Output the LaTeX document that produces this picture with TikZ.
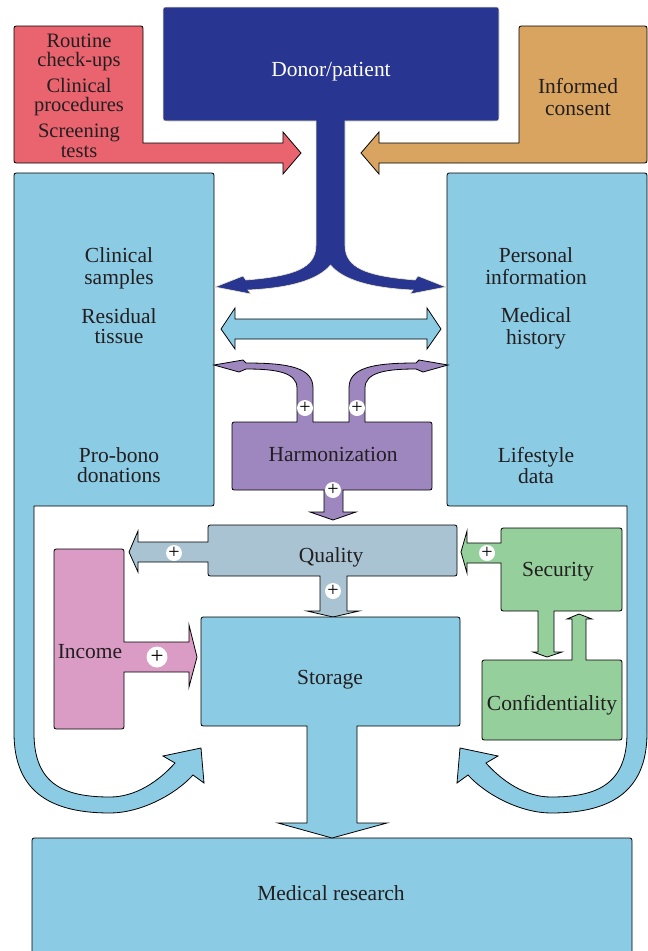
\documentclass[tikz,border=0pt]{standalone}
\usepackage{fontspec}
\setmainfont{Liberation Serif}
\definecolor{dblue}{HTML}{283691}
\definecolor{cream}{HTML}{EEE9C6}
\definecolor{redb}{HTML}{E9646F}
\definecolor{orangeb}{HTML}{D9A460}
\definecolor{lblue}{HTML}{8BCBE3}
\definecolor{purpleb}{HTML}{9E86BF}
\definecolor{qgrey}{HTML}{A9C3D3}
\definecolor{pinkb}{HTML}{DA9CC5}
\definecolor{greenb}{HTML}{95CF9B}
\definecolor{ink}{HTML}{231F20}
\begin{document}
\begin{tikzpicture}[x=1pt,y=-1pt,
  blk/.style={draw=black,line width=0.8pt,line join=miter},
  lbl/.style={anchor=base,inner sep=0pt,text=ink,font=\fontsize{21.5}{21.5}\selectfont},
  rlbl/.style={lbl,font=\fontsize{20.5}{20.5}\selectfont},
  pc/.style={circle,fill=white,inner sep=0pt,minimum size=16pt,font=\fontsize{20}{20}\selectfont}]
\useasboundingbox (0,0) rectangle (648,951);

% Medical research
\fill[lblue] (32,951) -- (32,843) .. controls (32,838) .. (37,838) -- (627,838) .. controls (632,838) .. (632,843) -- (632,951) -- cycle;
\draw[line width=0.8pt] (32,951) -- (32,843) .. controls (32,838) .. (37,838) -- (627,838) .. controls (632,838) .. (632,843) -- (632,951);

% left blue box with band
\path[blk,fill=lblue] (19,173) -- (209,173) .. controls (214,173) .. (214,178) -- (214,501) .. controls (214,506) .. (209,506) -- (34,506) -- (34,733)
  .. controls (34,785) and (65,797) .. (110,797) .. controls (135,797) and (158,782) .. (175,763) -- (163,756) -- (201,748) -- (204,783) -- (193,775)
  .. controls (175,795) and (140,813) .. (110,813) .. controls (55,813) and (14,795) .. (14,733) -- (14,178) .. controls (14,173) .. (19,173) -- cycle;

% right blue box with band
\path[blk,fill=lblue] (452,173) -- (642,173) .. controls (647,173) .. (647,178) -- (647,733)
  .. controls (647,795) and (606,813) .. (551,813) .. controls (521,813) and (486,795) .. (468,775) -- (457,783) -- (460,748) -- (498,756) -- (486,763)
  .. controls (503,782) and (526,797) .. (551,797) .. controls (596,797) and (627,785) .. (627,733) -- (627,506) -- (452,506) .. controls (447,506) .. (447,501) -- (447,178) .. controls (447,173) .. (452,173) -- cycle;

% red box with arrow
\path[blk,fill=redb] (19,26) -- (138,26) .. controls (143,26) .. (143,31) -- (143,143) -- (283,143) -- (283,132) -- (301,153) -- (283,174) -- (283,163) -- (19,163) .. controls (14,163) .. (14,158) -- (14,31) .. controls (14,26) .. (19,26) -- cycle;

% orange box with arrow
\path[blk,fill=orangeb] (524,26) -- (642,26) .. controls (647,26) .. (647,31) -- (647,158) .. controls (647,163) .. (642,163) -- (379,163) -- (379,174) -- (361,153) -- (379,132) -- (379,143) -- (519,143) -- (519,31) .. controls (519,26) .. (524,26) -- cycle;

% donor / patient
\path[draw=cream,line width=0.6pt,fill=dblue] (168,7) -- (494,7) .. controls (499,7) .. (499,12) -- (499,116) .. controls (499,121) .. (494,121) -- (345,121) -- (345,245)
  .. controls (345,268) and (366,276) .. (415,280) -- (418,276) -- (446,287) -- (410,294) -- (413,290)
  .. controls (371,288) and (343,280) .. (330.5,265)
  .. controls (318,280) and (290,288) .. (248,290) -- (251,294) -- (215,287) -- (243,276) -- (246,280)
  .. controls (295,276) and (316,268) .. (316,245) -- (316,121) -- (168,121) .. controls (163,121) .. (163,116) -- (163,12) .. controls (163,7) .. (168,7) -- cycle;

% double arrow between boxes
\path[blk,fill=lblue] (235,319) -- (427,319) -- (427,308) -- (441,329) -- (427,349) -- (427,339) -- (235,339) -- (235,349) -- (221,329) -- (235,308) -- cycle;

% harmonization
\path[blk,fill=purpleb] (237,422) -- (297,422) -- (297,388) .. controls (297,372) and (275,369) .. (246,369) -- (239,372) -- (214,365) -- (243,360) -- (246,363)
  .. controls (290,363) and (313,368) .. (313,388) -- (313,422) -- (349,422) -- (349,388) .. controls (349,368) and (372,363) .. (416,363) -- (419,360) -- (448,365) -- (423,372) -- (416,369)
  .. controls (387,369) and (365,372) .. (365,388) -- (365,422) -- (427,422) .. controls (432,422) .. (432,427) -- (432,485) .. controls (432,490) .. (427,490)
  -- (343,490) -- (343,512) -- (356,512) -- (333,520) -- (310,512) -- (324,512) -- (324,490) -- (237,490) .. controls (232,490) .. (232,485) -- (232,427) .. controls (232,422) .. (237,422) -- cycle;

% quality
\path[blk,fill=qgrey] (213,525) -- (452,525) .. controls (457,525) .. (457,530) -- (457,571) .. controls (457,576) .. (452,576) -- (347,576) -- (347,611) -- (359,611) -- (333,617) -- (307,611) -- (320,611) -- (320,576) -- (213,576) .. controls (208,576) .. (208,571) -- (208,562) -- (138,562) -- (138,572) -- (129,552) -- (138,531) -- (138,542) -- (208,542) -- (208,530) .. controls (208,525) .. (213,525) -- cycle;

% storage
\path[blk,fill=lblue] (206,617) -- (455,617) .. controls (460,617) .. (460,622) -- (460,721) .. controls (460,726) .. (455,726) -- (357,726) -- (357,823) -- (387,823) -- (332,838) -- (278,823) -- (307,823) -- (307,726) -- (206,726) .. controls (201,726) .. (201,721) -- (201,622) .. controls (201,617) .. (206,617) -- cycle;

% income
\path[blk,fill=pinkb] (59,549) -- (119,549) .. controls (124,549) .. (124,554) -- (124,642) -- (189,642) -- (189,625) -- (197,657) -- (189,687) -- (189,672) -- (124,672) -- (124,724) .. controls (124,729) .. (119,729) -- (59,729) .. controls (54,729) .. (54,724) -- (54,554) .. controls (54,549) .. (59,549) -- cycle;

% security
\path[blk,fill=greenb] (506,528) -- (617,528) .. controls (622,528) .. (622,533) -- (622,606) .. controls (622,611) .. (617,611) -- (554,611) -- (554,652) -- (562,652) -- (547,657) -- (533,652) -- (538,652) -- (538,611) -- (506,611) .. controls (501,611) .. (501,606) -- (501,563) -- (467,563) -- (467,573) -- (461,552) -- (467,531) -- (467,543) -- (501,543) -- (501,533) .. controls (501,528) .. (506,528) -- cycle;

% confidentiality
\path[blk,fill=greenb] (487,660) -- (572,660) -- (572,619) -- (567,619) -- (579,614) -- (592,619) -- (586,619) -- (586,660) -- (617,660) .. controls (622,660) .. (622,665) -- (622,735) .. controls (622,740) .. (617,740) -- (487,740) .. controls (482,740) .. (482,735) -- (482,665) .. controls (482,660) .. (487,660) -- cycle;

% plus marks
\node[pc] (p1) at (305,408) {+};
\node[pc] (p2) at (357,408) {+};
\node[pc] (p3) at (333,490) {+};
\node[pc] (p4) at (174,553) {+};
\node[pc] (p5) at (333,591) {+};
\node[pc] (p6) at (487,553) {+};
\node[pc,minimum size=21pt,font=\fontsize{23}{23}\selectfont] (p7) at (157,657) {+};

% texts
\node[lbl,text=white] (donor) at (331,76) {Donor/patient};
\node[rlbl] (r1) at (79,47) {Routine};
\node[rlbl] (r2) at (79,66) {check-ups};
\node[rlbl] (r3) at (79,92) {Clinical};
\node[rlbl] (r4) at (79,111) {procedures};
\node[rlbl] (r5) at (79,137) {Screening};
\node[rlbl] (r6) at (79,157) {tests};
\node[lbl] (o1) at (578,93) {Informed};
\node[lbl] (o2) at (578,115) {consent};
\node[lbl] (l1) at (119,262) {Clinical};
\node[lbl] (l2) at (119,284) {samples};
\node[lbl] (l3) at (119,323) {Residual};
\node[lbl] (l4) at (119,343) {tissue};
\node[lbl] (l5) at (119,462) {Pro-bono};
\node[lbl] (l6) at (119,482) {donations};
\node[lbl] (g1) at (536,262) {Personal};
\node[lbl] (g2) at (536,284) {information};
\node[lbl] (g3) at (536,322) {Medical};
\node[lbl] (g4) at (536,344) {history};
\node[lbl] (g5) at (536,462) {Lifestyle};
\node[lbl] (g6) at (536,483) {data};
\node[lbl] (harm) at (333,461) {Harmonization};
\node[lbl] (qual) at (331,562) {Quality};
\node[lbl] (sec) at (558,576) {Security};
\node[lbl] (conf) at (552,710) {Confidentiality};
\node[lbl] (inc) at (90,658) {Income};
\node[lbl] (stor) at (330,684) {Storage};
\node[lbl] (med) at (331,900) {Medical research};
\end{tikzpicture}
\end{document}
